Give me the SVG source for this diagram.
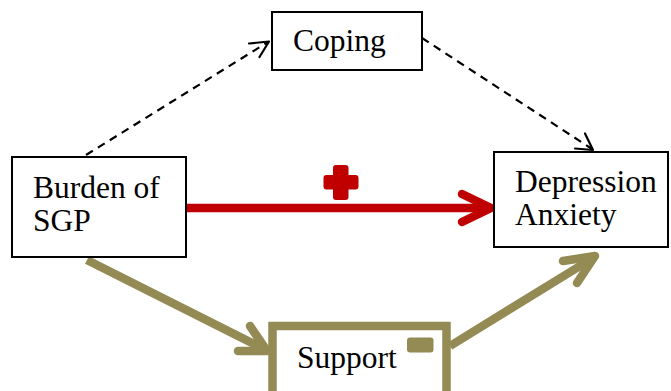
<svg xmlns="http://www.w3.org/2000/svg" width="671" height="391" viewBox="0 0 671 391">
  <style>
    .box { fill: #ffffff; stroke: #000000; stroke-width: 2; }
    .label { font-family: "Liberation Serif", "Times New Roman", serif; font-size: 31.5px; fill: #000000; }
    .dash { fill: none; stroke: #000000; stroke-width: 2.2; stroke-dasharray: 8 6; }
    .head { fill: none; stroke: #000000; stroke-width: 2.2; stroke-linecap: round; stroke-linejoin: round; }
    .red { fill: none; stroke: #C00000; stroke-width: 8.5; stroke-linecap: butt; }
    .redhead { fill: none; stroke: #C00000; stroke-width: 8.5; stroke-linecap: round; stroke-linejoin: round; }
    .olive { fill: none; stroke: #948A54; stroke-width: 8.5; stroke-linecap: butt; }
    .olivehead { fill: none; stroke: #948A54; stroke-width: 8.5; stroke-linecap: round; stroke-linejoin: round; }
  </style>

  <g id="connectors">
    <!-- Burden -> Coping (dashed) -->
    <line class="dash" x1="86" y1="155" x2="268" y2="42"/>
    <polyline class="head" points="249,43.5 269,41.5 259.5,57"/>
    <!-- Coping -> Depression/Anxiety (dashed) -->
    <line class="dash" x1="422" y1="38" x2="592" y2="149"/>
    <polyline class="head" points="575,148.5 593,150 585,133.5"/>
    <!-- Burden -> Depression/Anxiety (direct, positive) -->
    <line class="red" x1="186" y1="208" x2="488" y2="208"/>
    <polyline class="redhead" points="462,194 491,208 462,222"/>
    <!-- Burden -> Support -->
    <line class="olive" x1="87" y1="260" x2="264" y2="349"/>
    <polyline class="olivehead" points="250,326 267,351 238,351"/>
    <!-- Support -> Depression/Anxiety -->
    <line class="olive" x1="450" y1="346" x2="593" y2="258"/>
    <polyline class="olivehead" points="563,261 595,256 577,283"/>
  </g>

  <g id="coping">
    <rect class="box" x="272" y="12" width="150" height="58"/>
    <text class="label" x="293" y="51">Coping</text>
  </g>

  <g id="burden">
    <rect class="box" x="12" y="157" width="174" height="100"/>
    <text class="label" x="33" y="198">Burden of</text>
    <text class="label" x="33" y="231">SGP</text>
  </g>

  <g id="outcome">
    <rect class="box" x="494" y="152" width="174" height="95"/>
    <text class="label" x="515" y="192">Depression</text>
    <text class="label" x="515" y="225">Anxiety</text>
  </g>

  <g id="support">
    <rect x="272.5" y="326" width="174" height="72" fill="#ffffff" stroke="#948A54" stroke-width="8.5"/>
    <text class="label" x="297" y="368">Support</text>
    <!-- negative sign -->
    <rect x="407" y="337.5" width="26.5" height="15" rx="3" fill="#948A54"/>
  </g>

  <g id="positive-sign">
    <rect x="323.5" y="175" width="35" height="14.5" rx="3" fill="#C00000"/>
    <rect x="333" y="165" width="15.5" height="35" rx="3" fill="#C00000"/>
  </g>
</svg>
